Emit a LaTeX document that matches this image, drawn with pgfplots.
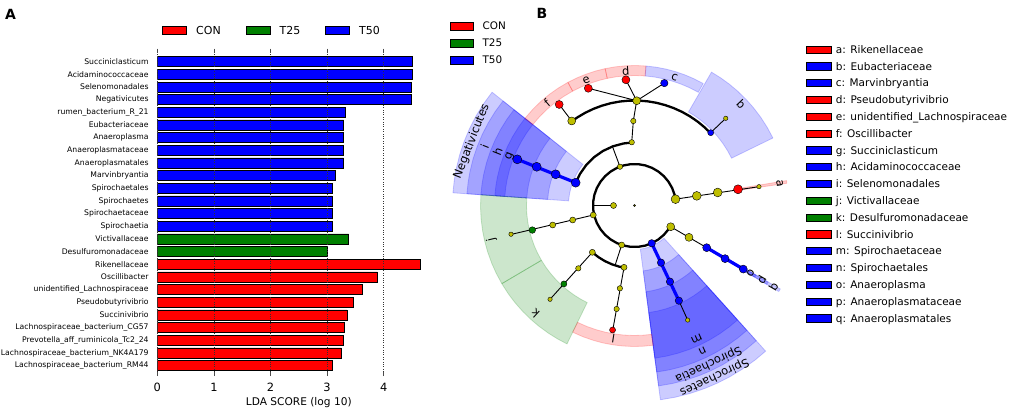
\documentclass[border=0pt]{standalone}
\usepackage{fontspec}
\setmainfont{DejaVu Sans}
\usepackage{pgfplots}
\pgfplotsset{compat=1.18}
\usepgfplotslibrary{polar}
\definecolor{nodey}{RGB}{190,190,0}
\definecolor{cgreen}{RGB}{0,128,0}
\newcommand\lab{\fontsize{11.5}{12}\selectfont}
\begin{document}
\begin{tikzpicture}
% ---------------- Panel A ----------------
\begin{axis}[
  at={(157.3pt,39pt)}, anchor=south west,
  scale only axis, width=283pt, height=323.3pt,
  xmin=0, xmax=5, ymin=-0.655, ymax=24.87,
  xbar, bar shift=0pt, bar width=10.1pt,
  axis line style={draw=none},
  xtick={0,1,2,3,4}, xtick pos=both, xticklabel pos=lower, tick align=center,
  major tick length=4pt,
  xtick style={gray!60!black, line width=0.6pt},
  xmajorgrids, grid style={dotted, black!80, line width=0.6pt},
  axis on top,
  ytick={0,...,24}, ytick style={draw=none},
  yticklabels={Lachnospiraceae\_bacterium\_RM44,Lachnospiraceae\_bacterium\_NK4A179,Prevotella\_aff\_ruminicola\_Tc2\_24,Lachnospiraceae\_bacterium\_CG57,Succinivibrio,Pseudobutyrivibrio,unidentified\_Lachnospiraceae,Oscillibacter,Rikenellaceae,Desulfuromonadaceae,Victivallaceae,Spirochaetia,Spirochaetaceae,Spirochaetes,Spirochaetales,Marvinbryantia,Anaeroplasmatales,Anaeroplasmataceae,Anaeroplasma,Eubacteriaceae,rumen\_bacterium\_R\_21,Negativicutes,Selenomonadales,Acidaminococcaceae,Succiniclasticum},
  yticklabel style={font=\fontsize{7.7}{8}\selectfont, inner sep=0pt, anchor=east, xshift=-6.5pt},
  xticklabel style={font=\fontsize{11.4}{12}\selectfont, inner sep=0pt, anchor=north, yshift=-7pt},
  /pgf/number format/assume math mode=true,
  xlabel={LDA SCORE (log 10)},
  xlabel style={font=\fontsize{10.6}{12}\selectfont, at={(axis description cs:0.5,0)}, anchor=center, yshift=-29pt},
  legend image code/.code={\draw[#1, line width=0.7pt] (0pt,-3.8pt) rectangle (24pt,3.8pt);},
  legend style={draw=none, fill=none, inner sep=0pt, at={(0.0166,1.0625)}, anchor=west,
    font=\fontsize{11}{12}\selectfont, legend columns=3, legend cell align=left,
    nodes={inner sep=0pt, text height=7.5pt, text depth=0pt},
    /tikz/every odd column/.append style={column sep=9.3pt},
    /tikz/every even column/.append style={column sep=24.8pt}},
]
\addplot[fill=red, draw=black, line width=0.7pt] coordinates {(4.65,8) (3.89,7) (3.63,6) (3.47,5) (3.35,4) (3.31,3) (3.28,2) (3.25,1) (3.09,0)};
\addplot[fill=cgreen, draw=black, line width=0.7pt] coordinates {(3.38,10) (3.01,9)};
\addplot[fill=blue, draw=black, line width=0.7pt] coordinates {(4.51,24) (4.51,23) (4.49,22) (4.49,21) (3.33,20) (3.29,19) (3.29,18) (3.29,17) (3.29,16) (3.15,15) (3.09,14) (3.09,13) (3.09,12) (3.09,11)};
\legend{CON,T25,T50}
\end{axis}
\node[anchor=north west, inner sep=0pt, font=\bfseries\fontsize{14}{14}\selectfont] at (5pt,404pt) {A};
\node[anchor=north west, inner sep=0pt, font=\bfseries\fontsize{14}{14}\selectfont] at (536.5pt,404.5pt) {B};
% ---------------- Panel B legends ----------------
\begin{axis}[
  at={(449.3pt,391.3pt)}, anchor=north west, scale only axis, width=23pt, height=10pt,
  hide axis, xmin=0, xmax=1, ymin=0, ymax=1,
  legend image code/.code={\draw[#1, line width=0.7pt] (0pt,-3.85pt) rectangle (23pt,3.85pt);},
  legend style={draw=none, fill=none, inner sep=0pt, at={(0,1)}, anchor=north west,
    font=\fontsize{10.4}{12}\selectfont, legend cell align=left, row sep=8.6pt,
    nodes={inner sep=0pt, text height=7.5pt, text depth=0pt},
    /tikz/every odd column/.append style={column sep=9.4pt}},
]
\addlegendimage{fill=red, draw=black}\addlegendentry{CON}
\addlegendimage{fill=cgreen, draw=black}\addlegendentry{T25}
\addlegendimage{fill=blue, draw=black}\addlegendentry{T50}
\end{axis}
\begin{axis}[
  at={(806pt,367.7pt)}, anchor=north west, scale only axis, width=25pt, height=10pt,
  hide axis, xmin=0, xmax=1, ymin=0, ymax=1,
  legend image code/.code={\draw[#1, line width=0.7pt] (0pt,-3.65pt) rectangle (25pt,3.65pt);},
  legend style={draw=none, fill=none, inner sep=0pt, at={(0,1)}, anchor=north west,
    font=\fontsize{10.5}{12}\selectfont, legend cell align=left, row sep=8.8pt,
    nodes={inner sep=0pt, text height=7.5pt, text depth=0pt},
    /tikz/every odd column/.append style={column sep=4pt}},
]
\addlegendimage{fill=red, draw=black}\addlegendentry{a: Rikenellaceae}
\addlegendimage{fill=blue, draw=black}\addlegendentry{b: Eubacteriaceae}
\addlegendimage{fill=blue, draw=black}\addlegendentry{c: Marvinbryantia}
\addlegendimage{fill=red, draw=black}\addlegendentry{d: Pseudobutyrivibrio}
\addlegendimage{fill=red, draw=black}\addlegendentry{e: unidentified\_Lachnospiraceae}
\addlegendimage{fill=red, draw=black}\addlegendentry{f: Oscillibacter}
\addlegendimage{fill=blue, draw=black}\addlegendentry{g: Succiniclasticum}
\addlegendimage{fill=blue, draw=black}\addlegendentry{h: Acidaminococcaceae}
\addlegendimage{fill=blue, draw=black}\addlegendentry{i: Selenomonadales}
\addlegendimage{fill=cgreen, draw=black}\addlegendentry{j: Victivallaceae}
\addlegendimage{fill=cgreen, draw=black}\addlegendentry{k: Desulfuromonadaceae}
\addlegendimage{fill=red, draw=black}\addlegendentry{l: Succinivibrio}
\addlegendimage{fill=blue, draw=black}\addlegendentry{m: Spirochaetaceae}
\addlegendimage{fill=blue, draw=black}\addlegendentry{n: Spirochaetales}
\addlegendimage{fill=blue, draw=black}\addlegendentry{o: Anaeroplasma}
\addlegendimage{fill=blue, draw=black}\addlegendentry{p: Anaeroplasmataceae}
\addlegendimage{fill=blue, draw=black}\addlegendentry{q: Anaeroplasmatales}
\end{axis}
% ---------------- Panel B cladogram ----------------
\begin{polaraxis}[
  at={(434.5pt,7.5pt)}, anchor=south west, scale only axis, width=400pt, height=400pt,
  ymin=0, ymax=200, hide axis, clip=false,
]
% shaded sectors
\pgfplotsset{sec/.style={forget plot, fill=#1, draw=#1, opacity=0.2, line width=0.8pt}}
\addplot[sec=blue] coordinates {(141.5,182) (146,182) (150.5,182) (155,182) (159.5,182) (164,182) (168.5,182) (172,182) (176,182) (176,66) (172,66) (168.5,66) (164,66) (159.5,66) (155,66) (150.5,66) (146,66) (141.5,66) (141.5,182)};
\addplot[sec=blue] coordinates {(141.5,168) (146,168) (150.5,168) (155,168) (159.5,168) (164,168) (168.5,168) (172,168) (176,168) (176,87) (172,87) (168.5,87) (164,87) (159.5,87) (155,87) (150.5,87) (146,87) (141.5,87) (141.5,168)};
\addplot[sec=blue] coordinates {(141.5,154) (146,154) (150.5,154) (155,154) (159.5,154) (164,154) (168.5,154) (172,154) (176,154) (176,108) (172,108) (168.5,108) (164,108) (159.5,108) (155,108) (150.5,108) (146,108) (141.5,108) (141.5,154)};
\addplot[sec=blue] coordinates {(141.5,140) (146,140) (150.5,140) (155,140) (159.5,140) (164,140) (168.5,140) (172,140) (176,140) (176,130) (172,130) (168.5,130) (164,130) (159.5,130) (155,130) (150.5,130) (146,130) (141.5,130) (141.5,140)};
\addplot[sec=blue] coordinates {(-82.4,196) (-78,196) (-73.5,196) (-69,196) (-65,196) (-61,196) (-56.5,196) (-52,196) (-48,196) (-48,44) (-52,44) (-56.5,44) (-61,44) (-65,44) (-69,44) (-73.5,44) (-78,44) (-82.4,44) (-82.4,196)};
\addplot[sec=blue] coordinates {(-82.4,182) (-78,182) (-73.5,182) (-69,182) (-65,182) (-61,182) (-56.5,182) (-52,182) (-48,182) (-48,66) (-52,66) (-56.5,66) (-61,66) (-65,66) (-69,66) (-73.5,66) (-78,66) (-82.4,66) (-82.4,182)};
\addplot[sec=blue] coordinates {(-82.4,168) (-78,168) (-73.5,168) (-69,168) (-65,168) (-61,168) (-56.5,168) (-52,168) (-48,168) (-48,87) (-52,87) (-56.5,87) (-61,87) (-65,87) (-69,87) (-73.5,87) (-78,87) (-82.4,87) (-82.4,168)};
\addplot[sec=blue] coordinates {(-82.4,154) (-78,154) (-73.5,154) (-69,154) (-65,154) (-61,154) (-56.5,154) (-52,154) (-48,154) (-48,108) (-52,108) (-56.5,108) (-61,108) (-65,108) (-69,108) (-73.5,108) (-78,108) (-82.4,108) (-82.4,154)};
\addplot[sec=blue] coordinates {(26,154) (30.5,154) (35,154) (39.5,154) (43.5,154) (48,154) (52,154) (56,154) (60,154) (60,108) (56,108) (52,108) (48,108) (43.5,108) (39.5,108) (35,108) (30.5,108) (26,108) (26,154)};
\addplot[sec=blue] coordinates {(60.6,140) (65,140) (69,140) (73,140) (77,140) (81,140) (85.3,140) (85.3,130) (81,130) (77,130) (73,130) (69,130) (65,130) (60.6,130) (60.6,140)};
\addplot[sec=red] coordinates {(85.3,140) (89.5,140) (93.7,140) (98,140) (102.1,140) (102.1,130) (98,130) (93.7,130) (89.5,130) (85.3,130) (85.3,140)};
\addplot[sec=red] coordinates {(102.1,140) (106,140) (110.3,140) (114.5,140) (118.4,140) (118.4,130) (114.5,130) (110.3,130) (106,130) (102.1,130) (102.1,140)};
\addplot[sec=red] coordinates {(118.4,140) (123,140) (127.5,140) (132,140) (136.5,140) (141.5,140) (141.5,130) (136.5,130) (132,130) (127.5,130) (123,130) (118.4,130) (118.4,140)};
\addplot[sec=cgreen] coordinates {(176,154) (180.5,154) (185,154) (189.5,154) (193.3,154) (197.5,154) (202,154) (206,154) (210.5,154) (210.5,108) (206,108) (202,108) (197.5,108) (193.3,108) (189.5,108) (185,108) (180.5,108) (176,108) (176,154)};
\addplot[sec=cgreen] coordinates {(210.5,154) (215,154) (219,154) (223.5,154) (227.5,154) (231.5,154) (236,154) (240,154) (244,154) (244,108) (240,108) (236,108) (231.5,108) (227.5,108) (223.5,108) (219,108) (215,108) (210.5,108) (210.5,154)};
\addplot[sec=red] coordinates {(244,141) (248.5,141) (253,141) (257,141) (261,141) (265,141) (269.5,141) (273.5,141) (277.6,141) (277.6,130) (273.5,130) (269.5,130) (265,130) (261,130) (257,130) (253,130) (248.5,130) (244,130) (244,141)};
\addplot[sec=red] coordinates {(8.3,154) (9.3,154) (9.3,108) (8.3,108) (8.3,154)};
\addplot[sec=blue] coordinates {(-30.8,168) (-29.8,168) (-29.8,87) (-30.8,87) (-30.8,168)};
\addplot[sec=blue] coordinates {(-30.8,154) (-29.8,154) (-29.8,108) (-30.8,108) (-30.8,154)};
\addplot[sec=blue] coordinates {(-30.8,140) (-29.8,140) (-29.8,130) (-30.8,130) (-30.8,140)};
% edges
\pgfplotsset{thinl/.style={forget plot, black, line width=0.9pt}, thickl/.style={forget plot, black, line width=2.3pt}, bluel/.style={forget plot, blue, line width=3.2pt}}
\addplot[thickl] coordinates {(8.8,41.5) (15,41.5) (25,41.5) (35,41.5) (45,41.5) (55,41.5) (65,41.5) (75,41.5) (85,41.5) (95,41.5) (105,41.5) (115,41.5) (125,41.5) (135,41.5) (145,41.5) (155,41.5) (165,41.5) (175,41.5) (185,41.5) (195,41.5) (205,41.5) (215,41.5) (225,41.5) (235,41.5) (245,41.5) (255,41.5) (265,41.5) (275,41.5) (285,41.5) (295,41.5) (305,41.5) (315,41.5) (325,41.5) (329.6,41.5)};
\addplot[thickl] coordinates {(92.5,63) (100,63) (110,63) (120,63) (130,63) (140,63) (150,63) (158.8,63)};
\addplot[thickl] coordinates {(43.7,105) (48,105) (53,105) (58,105) (63,105) (68,105) (73,105) (78,105) (83,105) (88,105) (93,105) (98,105) (103,105) (108,105) (113,105) (118,105) (123,105) (126.6,105)};
\addplot[thickl] coordinates {(228,63) (235,63) (242,63) (249,63) (256,63) (260.4,63)};
\addplot[thinl] coordinates {(180,41.5) (180,21)};
\addplot[thinl] coordinates {(8.8,41.5) (8.6,125.9)};
\addplot[thinl] coordinates {(110.5,41.4) (110.5,63)};
\addplot[thinl] coordinates {(92.5,63.3) (90.8,84.5) (88.8,104.8)};
\addplot[thinl] coordinates {(88.8,104.8) (93.9,126)};
\addplot[thinl] coordinates {(88.8,104.8) (111.5,126)};
\addplot[thinl] coordinates {(88.8,104.8) (76.3,126)};
\addplot[thinl] coordinates {(126.6,105.3) (126.7,126)};
\addplot[thinl] coordinates {(43.7,105.4) (43.7,126.2)};
\addplot[thinl] coordinates {(193,42.3) (193.2,126.8)};
\addplot[thinl] coordinates {(252,41.5) (252,63)};
\addplot[thinl] coordinates {(228,63) (228,126.2)};
\addplot[thinl] coordinates {(260.4,62.7) (260.1,126.4)};
\addplot[thinl] coordinates {(295,105) (294.9,126.3)};
\addplot[thinl] coordinates {(329.6,42) (329.7,83.6)};
\addplot[bluel] coordinates {(158.8,63.1) (158.5,126)};
\addplot[bluel] coordinates {(294.5,41.5) (295,105)};
\addplot[bluel] coordinates {(329.7,83.6) (329.7,126)};
% nodes
\pgfplotsset{nd/.style 2 args={forget plot, only marks, mark=*, mark size=#2pt, mark options={fill=#1, draw=black, line width=0.4pt}}}
\addplot[nd={nodey}{1}] coordinates {(0,0)};
\addplot[nd={nodey}{4.4}] coordinates {(8.8,41.5) (8.8,63) (8.9,84.2)};
\addplot[nd={nodey}{2.2}] coordinates {(8.6,125.9) (43.7,126.2) (193.1,126.8) (228,126.2) (294.9,126.3)};
\addplot[nd={nodey}{2.7}] coordinates {(110.5,41.4) (92.5,63.3) (90.8,84.5) (260,84.1) (260.2,105) (228.2,84.3)};
\addplot[nd={nodey}{3}] coordinates {(180,21) (193,42.3) (193.2,63.5) (193.4,84.1) (252,41.5) (228,63) (260.4,62.7)};
\addplot[nd={nodey}{4}] coordinates {(88.8,104.8) (126.6,105.3) (329.6,42) (329.7,63.1)};
\addplot[nd={red}{4.5}] coordinates {(8.9,104.8)};
\addplot[nd={red}{4}] coordinates {(93.9,126) (111.5,126) (126.7,126)};
\addplot[nd={red}{3}] coordinates {(260,126.4)};
\addplot[nd={blue}{4.5}] coordinates {(158.8,63.1) (158.4,84.8) (158.4,105.2) (158.5,126)};
\addplot[nd={blue}{3.7}] coordinates {(76.3,126) (294.5,41.5) (294.9,63) (295,84) (295,105)};
\addplot[nd={blue}{3}] coordinates {(43.7,105.4)};
\addplot[nd={blue}{4}] coordinates {(329.7,83.6) (329.6,105) (329.7,126)};
\addplot[nd={cgreen}{3}] coordinates {(228,105.5)};
\addplot[nd={cgreen}{3.3}] coordinates {(193.5,105.1)};
% labels
\node[rotate=68.5, font=\lab] at (axis cs:158.5,175) {Negativicutes};
\node[rotate=68.5, font=\lab] at (axis cs:158.5,161) {i};
\node[rotate=68.5, font=\lab] at (axis cs:158.5,147) {h};
\node[rotate=68.5, font=\lab] at (axis cs:158.5,134) {g};
\node[rotate=-155, font=\lab] at (axis cs:-65,189) {Spirochaetes};
\node[rotate=-155, font=\lab] at (axis cs:-65,175) {Spirochaetia};
\node[rotate=-155, font=\lab] at (axis cs:-65,161) {n};
\node[rotate=-155, font=\lab] at (axis cs:-65,147) {m};
\node[rotate=-46.5, font=\lab] at (axis cs:43.5,147) {b};
\node[rotate=-17.3, font=\lab] at (axis cs:72.7,134.5) {c};
\node[rotate=3.7, font=\lab] at (axis cs:93.7,134.5) {d};
\node[rotate=21, font=\lab] at (axis cs:111,134.5) {e};
\node[rotate=40.5, font=\lab] at (axis cs:130.5,134.5) {f};
\node[rotate=-81.2, font=\lab] at (axis cs:8.8,147) {a};
\node[rotate=-120.3, font=\lab] at (axis cs:-30.3,134.5) {o};
\node[rotate=-120.3, font=\lab] at (axis cs:-30.3,147) {p};
\node[rotate=-120.3, font=\lab] at (axis cs:-30.3,161) {q};
\node[rotate=103.3, font=\lab] at (axis cs:193.3,147) {j};
\node[rotate=137.5, font=\lab] at (axis cs:227.5,147) {k};
\node[rotate=171, font=\lab] at (axis cs:261,134.5) {l};
\end{polaraxis}
\pgfresetboundingbox
\path[use as bounding box] (0pt,0pt) rectangle (1021pt,413pt);
\end{tikzpicture}
\end{document}
